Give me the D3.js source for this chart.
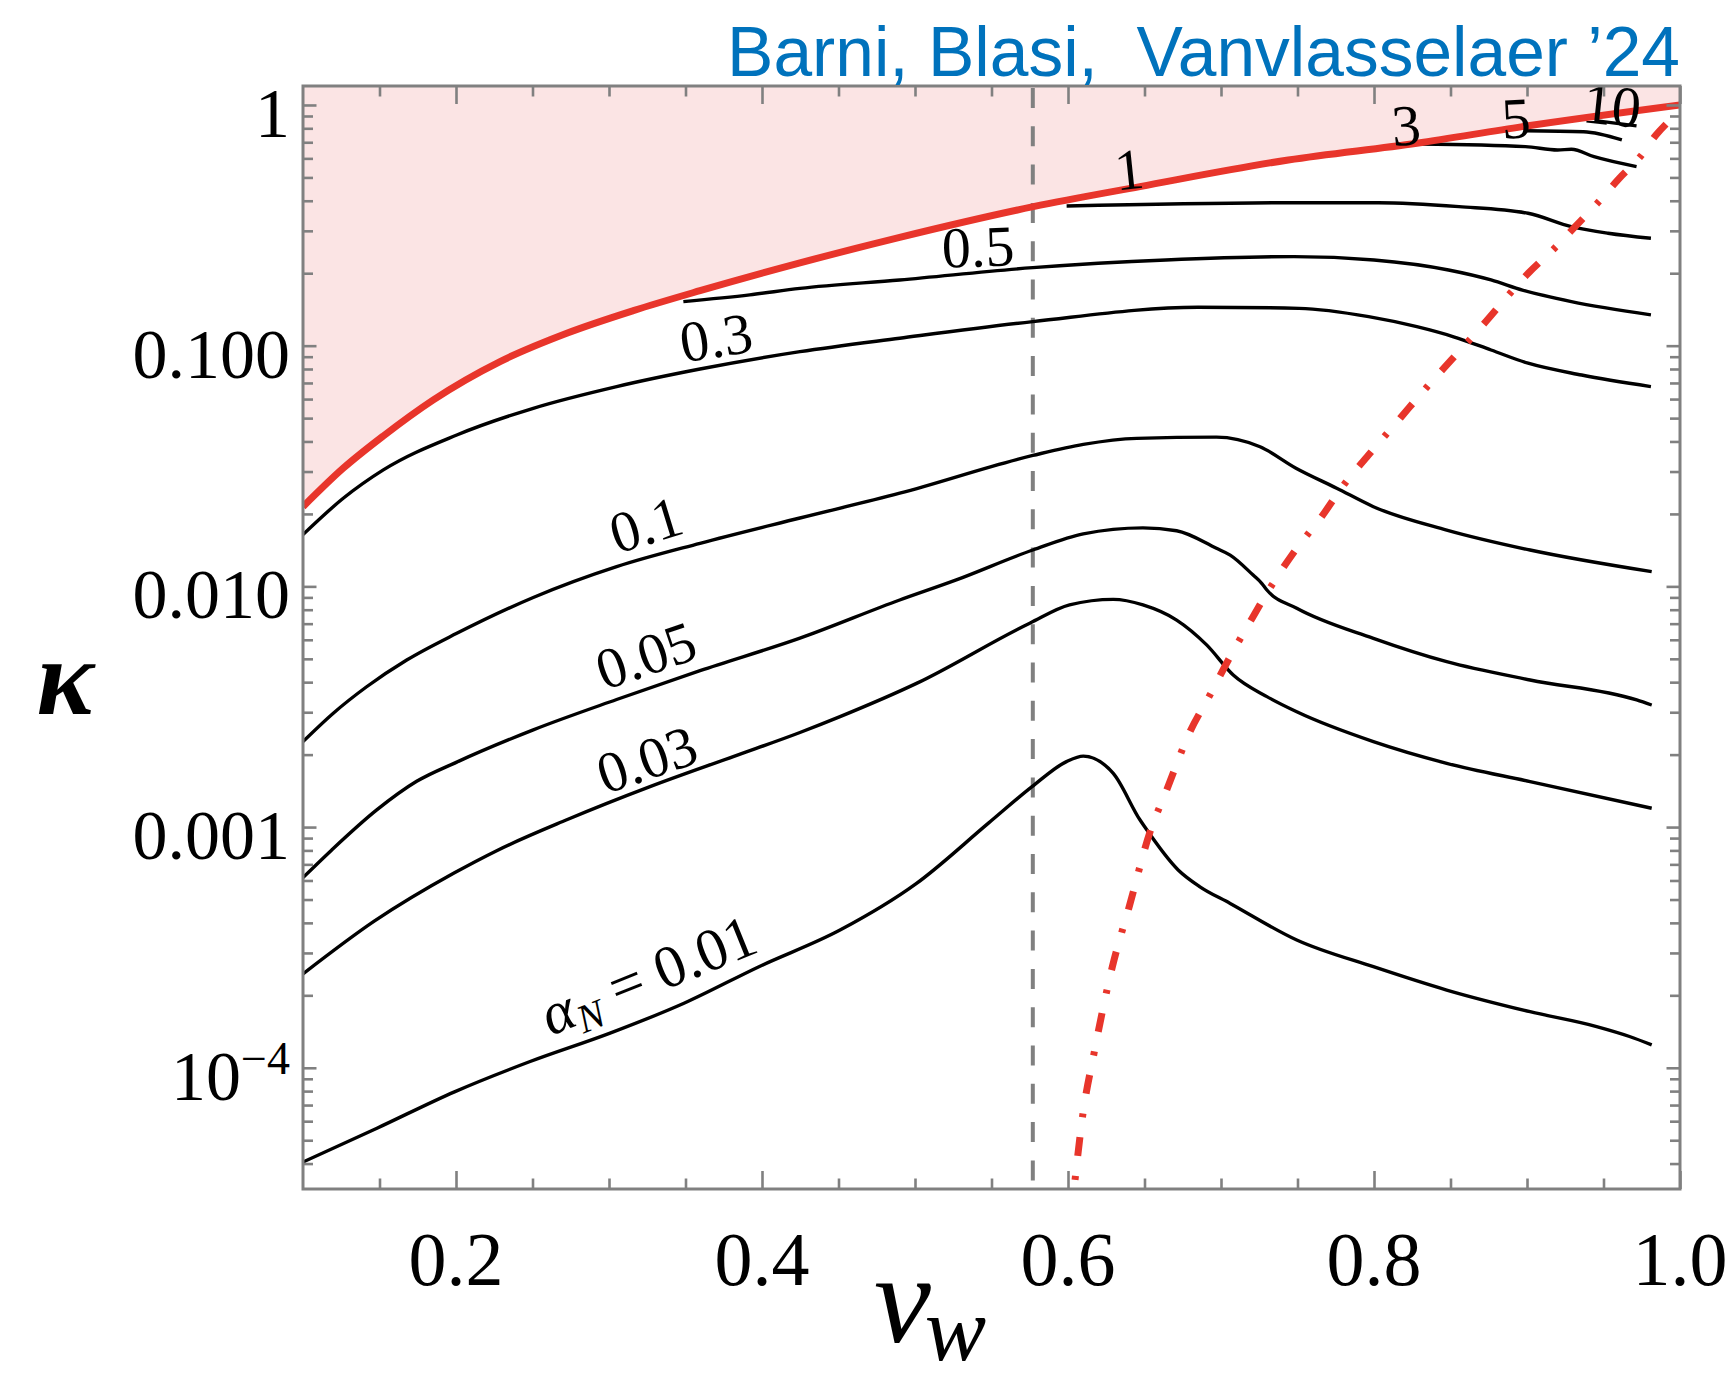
<!DOCTYPE html>
<html><head><meta charset="utf-8">
<script src="https://cdn.jsdelivr.net/npm/d3@7"></script>
<style>body{margin:0;background:#fff}svg{display:block}</style>
</head><body>
<svg id="chart" width="1735" height="1381"></svg>
<script>
// ---------- data (v_w, kappa) ----------
const vBoundary = [0.100,0.1263,0.1525,0.1852,0.2288,0.2724,0.3159,0.3595,0.4248,0.490,0.5773,0.647,0.744,0.828,0.897,1.0];
const kBoundary = [0.02143,0.03097,0.04217,0.05957,0.0859,0.1126,0.1398,0.1692,0.2208,0.2818,0.378,0.4581,0.5909,0.6934,0.8128,1.0];

const vA001 = [0.100,0.1487,0.199,0.248,0.3007,0.349,0.398,0.451,0.501,0.548,0.5765,0.599,0.610,0.6296,0.647,0.650,0.672,0.686,0.706,0.7495,0.7996,0.8475,0.902,0.9455,0.967,0.9815];
const kA001 = [4.06e-5,5.623e-5,7.943e-5,1.059e-4,1.393e-4,1.854e-4,2.63e-4,3.733e-4,5.834e-4,1.038e-3,1.472e-3,1.871e-3,1.972e-3,1.671e-3,1.072e-3,1.005e-3,6.637e-4,5.662e-4,4.819e-4,3.396e-4,2.63e-4,2.104e-4,1.71e-4,1.483e-4,1.349e-4,1.245e-4];

const vA003 = [0.100,0.1468,0.199,0.2266,0.2724,0.3268,0.3812,0.4248,0.451,0.501,0.575,0.601,0.6296,0.649,0.671,0.6906,0.708,0.730,0.7495,0.7996,0.8475,0.902,0.9815];
const kA003 = [2.455e-4,4.074e-4,6.457e-4,7.98e-4,1.072e-3,1.472e-3,1.963e-3,2.472e-3,2.877e-3,3.954e-3,7.031e-3,8.375e-3,8.831e-3,8.375e-3,7.244e-3,5.715e-3,4.285e-3,3.483e-3,3.013e-3,2.265e-3,1.841e-3,1.545e-3,1.197e-3];

const vA005 = [0.100,0.1188,0.1482,0.1743,0.2005,0.2505,0.305,0.3595,0.4248,0.490,0.527,0.577,0.610,0.649,0.671,0.697,0.706,0.721,0.7266,0.730,0.7495,0.7996,0.8475,0.902,0.9717,0.9815];
const kA005 = [6.166e-4,8.035e-4,1.178e-3,1.549e-3,1.862e-3,2.535e-3,3.388e-3,4.467e-3,6.095e-3,8.78e-3,1.064e-2,1.416e-2,1.652e-2,1.75e-2,1.702e-2,1.439e-2,1.349e-2,1.114e-2,1.03e-2,9.66e-3,8.11e-3,6.081e-3,4.864e-3,4.083e-3,3.373e-3,3.214e-3];

const vA01 = [0.100,0.1198,0.1416,0.1678,0.2005,0.2505,0.305,0.3595,0.4248,0.490,0.577,0.610,0.645,0.697,0.7255,0.749,0.7756,0.7996,0.8475,0.902,0.9815];
const kA01 = [2.265e-3,2.972e-3,3.828e-3,4.943e-3,6.383e-3,8.995e-3,1.208e-2,1.51e-2,1.923e-2,2.438e-2,3.499e-2,3.89e-2,4.121e-2,4.169e-2,3.802e-2,3.097e-2,2.559e-2,2.143e-2,1.714e-2,1.416e-2,1.151e-2];

const vA03 = [0.100,0.1263,0.1525,0.2005,0.2505,0.305,0.3595,0.4248,0.490,0.577,0.685,0.751,0.7965,0.828,0.852,0.8765,0.9007,0.9357,0.981];
const kA03 = [1.641e-2,2.323e-2,3.048e-2,4.256e-2,5.495e-2,6.761e-2,7.998e-2,9.441e-2,0.1074,0.1259,0.1445,0.1429,0.132,0.1199,0.1089,0.09594,0.08453,0.07551,0.06761];

const vA05 = [0.3486,0.392,0.4248,0.490,0.577,0.664,0.7477,0.800,0.8487,0.8765,0.897,0.929,0.981];
const kA05 = [0.1524,0.1626,0.173,0.1875,0.2109,0.227,0.2344,0.227,0.2063,0.1875,0.1702,0.1524,0.1343];

const vA1 = [0.5991,0.7477,0.803,0.8556,0.9007,0.929,0.953,0.981];
const kA1 = [0.3805,0.3926,0.3926,0.378,0.3548,0.3122,0.2931,0.2793];

const vA3 = [0.830,0.899,0.920,0.929,0.9438,0.9716];
const kA3 = [0.6887,0.6714,0.6501,0.6546,0.6095,0.5546];

const vA5 = [0.899,0.937,0.962];
const kA5 = [0.7816,0.7745,0.7161];

const vA10 = [0.946,0.9716];
const kA10 = [0.859,0.8185];

const vDashDot = [0.6046,0.6098,0.617,0.629,0.640,0.6533,0.6645,0.6797,0.6928,0.7048,0.719,0.7331,0.7473,0.7658,0.781,0.7974,0.817,0.8344,0.8516,0.8712,0.9008,0.918,0.9305,0.946,0.960,0.974,0.9843,0.9925];
const kDashDot = [3.42e-5,6.471e-5,1.148e-4,2.63e-4,4.667e-4,9.419e-4,1.426e-3,2.489e-3,3.54e-3,4.943e-3,7.129e-3,1.009e-2,1.377e-2,1.95e-2,2.679e-2,3.573e-2,4.989e-2,6.714e-2,8.872e-2,0.1219,0.2,0.2541,0.3076,0.3908,0.4932,0.6095,0.7499,0.8531];

const vJouguet = 0.577;   // dashed vertical line

// contour labels
const labelText  = ["0.03","0.05","0.1","0.3","0.5","1","3","5","10"];
const labelV     = [0.3248,0.3242,0.3242,0.370,0.5412,0.640,0.821,0.8928,0.9556];
const labelK     = [1.901e-3,5.14e-3,1.799e-2,0.1076,0.2559,0.537,0.818,0.875,0.990];
const labelAngle = [-19,-19,-17,-9,-2,-6,-4,-3,6];
const alphaLabelV = 0.3261, alphaLabelK = 2.383e-4, alphaLabelAngle = -22;

// ticks
const xMajorTicks = [0.2,0.4,0.6,0.8,1.0];
const xTickLabels = ["0.2","0.4","0.6","0.8","1.0"];
const xMinorTicks = [0.15,0.25,0.3,0.35,0.45,0.5,0.55,0.65,0.7,0.75,0.85,0.9,0.95];
const yMajorTicks = [1,0.1,0.01,0.001,0.0001];
const yTickLabels = ["1","0.100","0.010","0.001","10|−4"];

// ---------- drawing ----------
const L=303,R=1680,T=86,B=1189;
const svg = d3.select("#chart");
const x = d3.scaleLinear().domain([0.1,1.0]).range([L,R]);
const y = d3.scaleLog().domain([3.136e-5,1.199]).range([B,T]);

const defs = svg.append("defs");
defs.append("clipPath").attr("id","plotclip").append("rect")
  .attr("x",L).attr("y",T).attr("width",R-L).attr("height",B-T);

const zip = (vs,ks)=>vs.map((v,i)=>[v,ks[i]]);
const line = d3.line().x(d=>x(d[0])).y(d=>y(d[1])).curve(d3.curveMonotoneX);
const area = d3.area().x(d=>x(d[0])).y0(y(1.199)).y1(d=>y(d[1])).curve(d3.curveMonotoneX);

const plot = svg.append("g").attr("clip-path","url(#plotclip)");

// forbidden region
plot.append("path").attr("d",area(zip(vBoundary,kBoundary))).attr("fill","#fbe4e4");

// dashed vertical line
plot.append("line").attr("x1",x(vJouguet)).attr("x2",x(vJouguet))
  .attr("y1",T+2).attr("y2",B)
  .attr("stroke","#808080").attr("stroke-width",4).attr("stroke-dasharray","20,18.3");

// contour curves
const contours = [[vA001,kA001],[vA003,kA003],[vA005,kA005],[vA01,kA01],[vA03,kA03],
                  [vA05,kA05],[vA1,kA1],[vA3,kA3],[vA5,kA5],[vA10,kA10]];
contours.forEach(([vs,ks])=>{
  plot.append("path").attr("d",line(zip(vs,ks)))
    .attr("fill","none").attr("stroke","#000").attr("stroke-width",3.4)
    .attr("stroke-linejoin","round");
});

// dash-dot red curve
plot.append("path").attr("d",line(zip(vDashDot,kDashDot)))
  .attr("fill","none").attr("stroke","#e8352b").attr("stroke-width",7)
  .attr("stroke-dasharray","4,20,19,20");

// boundary red curve
plot.append("path").attr("d",line(zip(vBoundary,kBoundary)))
  .attr("fill","none").attr("stroke","#e8352b").attr("stroke-width",7);

// contour labels
const serif = "'Liberation Serif','Times New Roman',serif";
labelText.forEach((t,i)=>{
  svg.append("text")
    .attr("transform",`translate(${x(labelV[i])},${y(labelK[i])}) rotate(${labelAngle[i]})`)
    .attr("text-anchor","middle").attr("dy","0.33em")
    .attr("font-family",serif).attr("font-size",58).attr("fill","#000")
    .text(t);
});
const al = svg.append("text")
  .attr("transform",`translate(${x(alphaLabelV)},${y(alphaLabelK)}) rotate(${alphaLabelAngle})`)
  .attr("text-anchor","middle").attr("dy","0.3em")
  .attr("font-family",serif).attr("font-size",60).attr("fill","#000");
al.append("tspan").attr("font-style","italic").text("α");
al.append("tspan").attr("font-style","italic").attr("font-size",40).attr("dy",10).text("N");
al.append("tspan").attr("dy",-10).text(" = 0.01");

// frame
svg.append("rect").attr("x",L).attr("y",T).attr("width",R-L).attr("height",B-T)
  .attr("fill","none").attr("stroke","#808080").attr("stroke-width",3);

// ticks via d3 axes (pointing inward)
const yMinor = y.ticks().filter(t=>Math.abs(Math.log10(t)-Math.round(Math.log10(t)))>1e-6);
function styleAxis(g){
  g.select(".domain").remove();
  g.selectAll(".tick line").attr("stroke","#808080").attr("stroke-width",2.6);
}
svg.append("g").attr("transform",`translate(${L},0)`)
  .call(d3.axisRight(y).tickValues(yMajorTicks).tickSize(13.5).tickFormat("")).call(styleAxis);
svg.append("g").attr("transform",`translate(${L},0)`)
  .call(d3.axisRight(y).tickValues(yMinor).tickSize(10).tickFormat("")).call(styleAxis);
svg.append("g").attr("transform",`translate(${R},0)`)
  .call(d3.axisLeft(y).tickValues(yMajorTicks).tickSize(13.5).tickFormat("")).call(styleAxis);
svg.append("g").attr("transform",`translate(${R},0)`)
  .call(d3.axisLeft(y).tickValues(yMinor).tickSize(10).tickFormat("")).call(styleAxis);
svg.append("g").attr("transform",`translate(0,${B})`)
  .call(d3.axisTop(x).tickValues(xMajorTicks).tickSize(18).tickFormat("")).call(styleAxis);
svg.append("g").attr("transform",`translate(0,${B})`)
  .call(d3.axisTop(x).tickValues(xMinorTicks).tickSize(10.5).tickFormat("")).call(styleAxis);
svg.append("g").attr("transform",`translate(0,${T})`)
  .call(d3.axisBottom(x).tickValues(xMajorTicks).tickSize(18).tickFormat("")).call(styleAxis);
svg.append("g").attr("transform",`translate(0,${T})`)
  .call(d3.axisBottom(x).tickValues(xMinorTicks).tickSize(10.5).tickFormat("")).call(styleAxis);

// tick labels
xMajorTicks.forEach((t,i)=>{
  svg.append("text").attr("x",x(t)).attr("y",1285).attr("text-anchor","middle")
    .attr("font-family",serif).attr("font-size",76).attr("fill","#000").text(xTickLabels[i]);
});
yMajorTicks.forEach((t,i)=>{
  const lab = yTickLabels[i];
  const tx = svg.append("text").attr("x",290).attr("y",y(t)+32).attr("text-anchor","end")
    .attr("font-family",serif).attr("font-size",70).attr("fill","#000");
  if(lab.includes("|")){
    const [b,e] = lab.split("|");
    tx.append("tspan").text(b);
    tx.append("tspan").attr("font-size",46).attr("dy",-26).text(e);
  } else tx.text(lab);
});

// axis titles
svg.append("text").attr("x",65).attr("y",714).attr("text-anchor","middle")
  .attr("font-family",serif).attr("font-style","italic").attr("font-weight","bold")
  .attr("font-size",108).attr("fill","#000").text("κ");
const xl = svg.append("text").attr("x",874).attr("y",1342)
  .attr("font-family",serif).attr("font-style","italic").attr("fill","#000");
xl.append("tspan").attr("font-size",128).text("v");
xl.append("tspan").attr("font-size",92).attr("dy",18).attr("dx",-6).text("w");

// citation
svg.append("text").attr("x",1680).attr("y",76).attr("text-anchor","end")
  .attr("font-family","'Liberation Sans',Arial,Helvetica,sans-serif").attr("font-size",69.5)
  .attr("fill","#0072bc").attr("xml:space","preserve").style("white-space","pre")
  .text("Barni, Blasi,  Vanvlasselaer \u201924");
</script>
</body></html>
